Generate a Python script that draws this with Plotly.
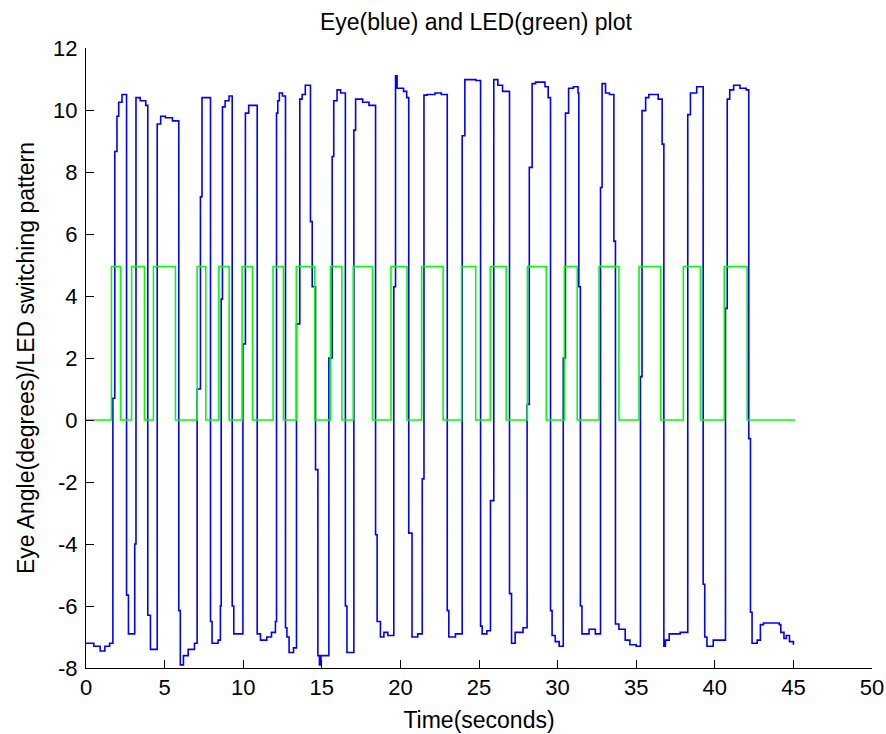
import plotly.graph_objects as go

# ---- Eye angle (blue): time (s) and angle (deg)
eye_time = [0.0, 0.5, 0.9, 1.2, 1.5, 1.71, 1.83, 1.97, 2.08, 2.29, 2.58, 2.70,
            3.10, 3.18, 3.45, 3.80, 3.93, 4.10, 4.53, 4.75, 5.05, 5.50, 5.90, 6.00,
            6.20, 6.50, 6.90, 7.07, 7.28, 7.38, 7.92, 8.02, 8.40, 8.55, 8.60, 8.68,
            8.85, 9.10, 9.30, 9.40, 9.98, 10.14, 10.35, 10.89, 11.10, 11.50, 11.80,
            12.05, 12.12, 12.20, 12.30, 12.50, 12.69, 12.78, 12.92, 13.20, 13.39,
            13.60, 13.75, 13.95, 14.28, 14.39, 14.60, 14.75, 14.85, 14.95, 15.45,
            15.66, 15.76, 15.97, 16.20, 16.50, 16.60, 17.04, 17.15, 17.60, 18.00,
            18.42, 18.52, 18.73, 18.95, 19.20, 19.58, 19.69, 19.79, 20.20, 20.40,
            20.53, 20.74, 21.10, 21.39, 21.50, 21.70, 22.20, 22.60, 22.98, 23.08,
            23.50, 23.93, 24.10, 24.80, 25.10, 25.20, 25.50, 25.73, 25.94, 26.20,
            26.50, 26.94, 27.07, 27.30, 27.80, 28.06, 28.20, 28.38, 28.60, 29.20,
            29.40, 29.55, 29.65, 29.85, 30.10, 30.36, 30.50, 30.70, 31.00, 31.30,
            31.35, 31.45, 31.55, 32.00, 32.40, 32.73, 32.83, 33.05, 33.30, 33.58,
            33.68, 33.90, 34.30, 34.60, 35.00, 35.27, 35.37, 35.60, 35.80, 36.40,
            36.65, 36.76, 36.86, 37.10, 37.80, 38.28, 38.45, 38.85, 39.26, 39.36,
            39.50, 39.90, 40.68, 40.79, 40.95, 41.20, 41.60, 42.00, 42.16, 42.27,
            42.37, 42.70, 42.90, 43.10, 44.10, 44.20, 44.40, 44.55, 44.75, 45.00]
eye_angle = [-7.2, -7.3, -7.45, -7.3, -7.2, 0.7, 8.66, 9.8, 10.25, 10.5, -5.65, -6.9,
             -4.0, 10.4, 10.3, 10.15, -6.3, -7.4, 9.55, 9.8, 9.75, 9.65, -6.15, -7.9,
             -7.6, -7.4, -7.2, 1.0, 7.2, 10.4, -6.5, -7.2, -7.1, -6.0, 3.9, 10.1,
             10.3, 10.45, -6.0, -6.9, 2.45, 9.9, 10.15, -6.9, -7.1, -7.0, -6.85,
             -6.5, 9.9, 10.3, 10.55, 10.45, -6.7, -7.0, -7.5, -7.35, 3.1,
             10.35, 10.5, 10.8, 6.4, 4.3, -1.6, -7.6, -7.9, -7.6, 2.0,
             8.5, 10.3, 10.65, 10.55, -6.0, -7.5, 9.35, 10.35, 10.25, 10.15,
             -3.7, -6.5, -7.0, -6.85, -6.95, 4.3, 11.1, 10.7, 10.6, 10.4,
             -3.65, -7.0, -6.9, -1.9, 10.48, 10.5, 10.55, 10.5, -6.15, -7.0,
             -6.9, 9.17, 10.98, 10.95, -6.65, -6.9, -6.8, -2.6, 10.98, 10.8,
             10.6, -5.6, -7.2, -6.85, -6.7, 0.5, 8.15, 10.85, 10.9, 10.75,
             10.4, -6.15, -6.95, -7.15, -7.3, 2.0, 9.9, 10.7, 10.75, 10.55,
             4.3, -6.0, -6.9, -6.75, -6.9, 7.5, 10.85, 10.55, 10.5, 5.77,
             -6.58, -6.75, -7.1, -7.25, -7.3, 1.4, 9.98, 10.4, 10.5, 10.35,
             8.9, -7.3, -7.1, -6.9, -6.85, 9.85, 10.55, 10.75, -5.3, -7.0,
             -7.3, -7.1, 3.6, 10.35, 10.65, 10.8, 10.7, 10.65, -0.6, -6.2,
             -7.2, -7.1, -6.6, -6.55, -6.6, -6.85, -7.05, -6.95, -7.15, -7.25]

# ---- LED switching pattern (green): on/off switching times (s) and level
led_on = [1.62, 2.90, 4.29, 7.07, 8.45, 9.93, 11.90, 13.38, 15.55, 17.00,
          19.40, 21.35, 23.89, 25.72, 28.08, 30.43, 32.64, 35.18, 38.00, 40.60]
led_off = [2.20, 3.72, 5.69, 7.62, 9.11, 10.59, 12.56, 14.55, 16.28, 18.23,
           20.42, 22.72, 24.79, 26.73, 29.28, 31.25, 33.90, 36.56, 39.09, 42.06]
led_level = 4.95
led_start = 0.0
led_end = 45.1

x_ticks = [0, 5, 10, 15, 20, 25, 30, 35, 40, 45, 50]
y_ticks = [-8, -6, -4, -2, 0, 2, 4, 6, 8, 10, 12]

led_t = [led_start]
led_y = [0]
for on, off in zip(led_on, led_off):
    led_t += [on, off]
    led_y += [led_level, 0]
led_t.append(led_end)
led_y.append(0)

fig = go.Figure()
fig.add_trace(go.Scatter(x=eye_time, y=eye_angle, mode="lines", line_shape="hv",
                         line=dict(color="#0000FF", width=1.6), hoverinfo="skip"))
fig.add_trace(go.Scatter(x=led_t, y=led_y, mode="lines", line_shape="hv",
                         line=dict(color="#00FF00", width=1.6), hoverinfo="skip"))

font_family = "Liberation Sans, Arial, sans-serif"
fig.update_layout(
    width=886, height=734,
    margin=dict(l=86, r=14, t=48, b=66, autoexpand=False),
    paper_bgcolor="white", plot_bgcolor="white",
    showlegend=False,
    font=dict(family=font_family, color="black", size=22),
    title=dict(text="Eye(blue) and LED(green) plot", x=0.496, xanchor="center",
               xref="paper", y=0.97, yanchor="middle", automargin=False,
               font=dict(size=23, family=font_family, color="black")),
)
fig.update_xaxes(range=[0, 50], tickvals=x_ticks, ticktext=[str(v) for v in x_ticks],
                 ticks="inside", ticklen=8, tickcolor="black", tickwidth=1,
                 showline=True, linecolor="black", linewidth=1, mirror=False,
                 showgrid=False, zeroline=False, automargin=False,
                 tickfont=dict(size=22, family=font_family),
                 title=dict(text="Time(seconds)", font=dict(size=23, family=font_family),
                            standoff=12))
fig.update_yaxes(range=[-8, 12], tickvals=y_ticks, ticktext=[str(v) for v in y_ticks],
                 ticks="inside", ticklen=8, tickcolor="black", tickwidth=1,
                 showline=True, linecolor="black", linewidth=1, mirror=False,
                 showgrid=False, zeroline=False, ticklabelstandoff=3, automargin=False,
                 tickfont=dict(size=22, family=font_family),
                 title=dict(text="Eye Angle(degrees)/LED switching pattern",
                            font=dict(size=23, family=font_family), standoff=12))

fig.write_html("out.html", config={"displayModeBar": False},
               post_script="document.body.style.margin='0';document.body.style.overflow='hidden';")
